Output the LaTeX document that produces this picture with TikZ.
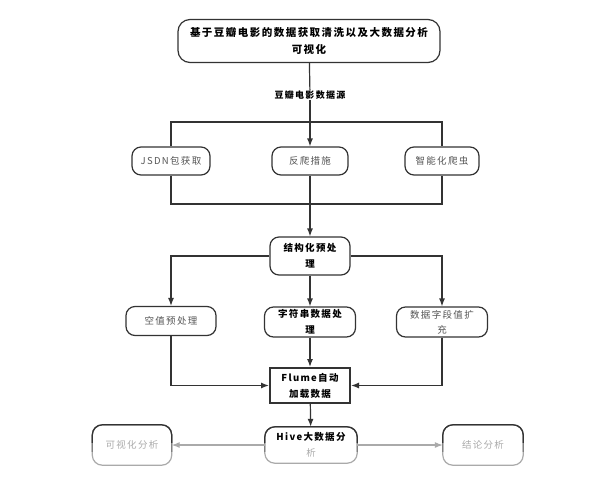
\documentclass[tikz,border=0pt]{standalone}
\usepackage{fontspec}
\newfontfamily\cjk[LetterSpace=14]{Noto Sans CJK SC}
\usetikzlibrary{arrows.meta}
\definecolor{ink}{HTML}{333333}
\definecolor{soft}{HTML}{555555}
\definecolor{pale}{HTML}{AAAAAA}
\tikzset{
  base/.style={align=center, inner sep=0pt, font=\cjk\fontsize{9.5}{15}\selectfont},
  rbox/.style={base, draw=ink, line width=1.2pt, rounded corners=9pt, text=soft},
  bbox/.style={rbox, text=black, font=\cjk\bfseries\fontsize{9.5}{16}\selectfont},
  sbox/.style={base, draw=ink, line width=2pt, text=black, font=\cjk\bfseries\fontsize{9.5}{16}\selectfont},
  lnk/.style={draw=ink, line width=1.2pt},
  arr/.style={lnk, -{Latex[length=8pt,width=6pt]}},
  garr/.style={draw=pale, line width=1.1pt, -{Latex[length=8pt,width=6pt]}},
  fbox/.style={base, rounded corners=10pt}
}
\begin{document}
\begin{tikzpicture}[x=1pt,y=-1pt]
\useasboundingbox (0,0) rectangle (600,483);
\fill[white] (0,0) rectangle (600,483);

\node[bbox, minimum width=262pt, minimum height=43pt, rounded corners=12pt,
      font=\cjk\bfseries\fontsize{10.5}{17}\selectfont] (top) at (309,41)
  {基于豆瓣电影的数据获取清洗以及大数据分析\\可视化};
\node[base, text=black, font=\cjk\bfseries\fontsize{9}{12}\selectfont] (src) at (310,95) {豆瓣电影数据源};

\node[rbox, minimum width=78pt, minimum height=28pt] (n1) at (171,161) {JSDN包获取};
\node[rbox, minimum width=76pt, minimum height=28pt] (n2) at (310,161) {反爬措施};
\node[rbox, minimum width=74pt, minimum height=28pt] (n3) at (442,161) {智能化爬虫};

\node[bbox, minimum width=80pt, minimum height=38pt] (s) at (310,256) {结构化预处\\理};

\node[rbox, minimum width=90pt, minimum height=29pt] (m1) at (171,321) {空值预处理};
\node[bbox, minimum width=91pt, minimum height=30pt] (m2) at (310,322) {字符串数据处\\理};
\node[rbox, minimum width=91pt, minimum height=30pt] (m3) at (442,322) {数据字段值扩\\充};

\node[sbox, minimum width=80pt, minimum height=35pt] (f) at (310,385.5) {Flume自动\\加载数据};

\node[fbox, minimum width=92pt, minimum height=36pt,
      font=\cjk\bfseries\fontsize{9.5}{16}\selectfont] (h) at (311,445)
  {Hive大数据分\\{\color{pale}\mdseries 析}};
\node[fbox, minimum width=79pt, minimum height=40pt, text=pale] (v) at (132,445) {可视化分析};
\node[fbox, minimum width=80pt, minimum height=40pt, text=pale] (c) at (483,445) {结论分析};

% faded outlines
\foreach \b in {h,v,c}{
  \draw[pale, line width=1.2pt, rounded corners=10pt] (\b.south west) rectangle (\b.north east);
  \begin{scope}
    \clip ([xshift=-5pt,yshift=5pt]\b.north west) rectangle ([xshift=5pt,yshift=-6pt]\b.east);
    \draw[gray, line width=1.2pt, rounded corners=10pt] (\b.south west) rectangle (\b.north east);
  \end{scope}
  \begin{scope}
    \clip ([xshift=-5pt,yshift=5pt]\b.north west) rectangle ([xshift=5pt,yshift=3pt]\b.east);
    \draw[ink, line width=1.2pt, rounded corners=10pt] (\b.south west) rectangle (\b.north east);
  \end{scope}
}

\coordinate (j1) at (310,122);
\coordinate (j2) at (310,204);

\draw[lnk] (top) -- (src);
\draw[arr] (src) -- (n2);
\draw[lnk] (n1.north) |- (j1) -| (n3.north);
\draw[lnk] (n1.south) |- (j2) -| (n3.south);
\draw[arr] (n2) -- (s);
\draw[arr] (s.west) -| (m1.north);
\draw[arr] (s.east) -| (m3.north);
\draw[arr] (s) -- (m2);
\draw[arr] (m1.south) |- (f.west);
\draw[arr] (m3.south) |- (f.east);
\draw[arr] (m2) -- (f);
\draw[arr] (f) -- (h);
\draw[garr] (h) -- (v);
\draw[garr] (h) -- (c);
\end{tikzpicture}
\end{document}
